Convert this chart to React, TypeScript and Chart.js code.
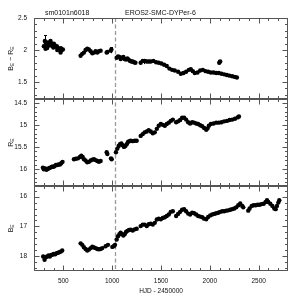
import React, { useEffect, useRef } from "react";
import { Chart, registerables } from "chart.js";

Chart.register(...registerables);

// ---- Data (HJD - 2450000) ----
// B_E - R_E colour
const hjdBR = [
  301, 311, 321, 332, 342, 352, 362, 373, 383, 393, 403, 414, 424, 434, 445, 455, 465, 475, 486, 496,
  318, 335, 369, 398, 438, 472,
  677, 694, 711, 728, 745, 762, 780, 797, 814, 831, 848, 865, 882,
  944, 950, 985, 992,
  1046, 1060, 1074, 1087, 1101, 1115, 1128, 1142, 1156, 1169, 1183, 1197, 1210, 1224, 1238,
  1292, 1313, 1333, 1354, 1374, 1395, 1422, 1450, 1477, 1504, 1532, 1559, 1586, 1614, 1641,
  1675, 1703, 1730, 1757, 1785, 1805, 1826, 1846, 1874, 1901, 1928, 1956, 1983, 2010, 2038, 2065, 2092,
  2096, 2106,
  2120, 2147, 2174, 2202, 2229, 2256, 2277,
];
const colBR = [
  2.06, 2.14, 2.11, 2.08, 2.12, 2.10, 2.07, 2.11, 2.08, 2.06, 2.10, 2.07, 2.05, 2.06, 2.03, 2.02, 2.01, 2.03, 2.00, 2.01,
  2.02, 2.03, 2.14, 2.04, 2.00, 1.96,
  1.91, 1.94, 1.96, 2.00, 2.02, 2.01, 1.98, 1.95, 1.96, 1.98, 1.96, 1.98, 1.99,
  1.96, 1.97, 1.99, 2.01,
  1.88, 1.90, 1.89, 1.86, 1.88, 1.89, 1.86, 1.85, 1.87, 1.85, 1.83, 1.82, 1.82, 1.81, 1.80,
  1.80, 1.83, 1.83, 1.82, 1.82, 1.82, 1.83, 1.81, 1.80, 1.79, 1.77, 1.75, 1.71, 1.69, 1.68,
  1.66, 1.63, 1.64, 1.66, 1.69, 1.70, 1.67, 1.64, 1.65, 1.68, 1.69, 1.67, 1.66, 1.65, 1.65, 1.64, 1.64,
  1.80, 1.82,
  1.63, 1.62, 1.61, 1.60, 1.59, 1.58, 1.57,
];
// a few visible error bars on the colour curve
const errHjd = [311, 985, 1327, 2096];
const errLo = [2.05, 1.95, 1.78, 1.77];
const errHi = [2.23, 2.04, 1.86, 1.84];

// R_E magnitude
const hjdR = [
  291, 301, 315, 328, 342, 356, 369, 383, 397, 410, 424, 438, 451, 465, 479, 492,
  609, 629, 650, 670, 684, 698, 711, 728, 745, 762, 780, 797, 814, 831, 848, 865, 882,
  944, 951, 988, 995,
  1039, 1053, 1067, 1080, 1094, 1108, 1121, 1135, 1149, 1162, 1176, 1190, 1210, 1231, 1251,
  1292, 1313, 1333, 1354, 1374, 1395, 1416, 1436, 1457, 1477, 1498, 1518, 1539, 1559, 1580, 1600, 1621,
  1655, 1675, 1696, 1716, 1737, 1757, 1778, 1798, 1819, 1839, 1860, 1880, 1901, 1922, 1942, 1963, 1976, 1990,
  2010, 2038, 2065, 2092, 2120, 2147, 2175, 2202, 2229, 2257, 2284, 2298,
];
const magR = [
  15.97, 16.01, 15.99, 16.02, 16.0, 15.98, 15.97, 15.95, 15.95, 15.94, 15.91, 15.91, 15.9, 15.9, 15.87, 15.84,
  15.78, 15.77, 15.76, 15.73, 15.7, 15.73, 15.78, 15.81, 15.85, 15.84, 15.81, 15.79, 15.78, 15.8, 15.82, 15.84, 15.82,
  15.62, 15.66, 15.76, 15.78,
  15.62, 15.54, 15.48, 15.44, 15.42, 15.46, 15.5, 15.48, 15.44, 15.39, 15.37, 15.36, 15.37, 15.36, 15.36,
  15.25, 15.21, 15.17, 15.15, 15.12, 15.15, 15.19, 15.17, 15.09, 15.02, 14.98, 15.0, 15.02, 14.98, 14.95, 14.91, 14.88,
  14.94, 14.92, 14.89, 14.84, 14.84, 14.88, 14.94, 14.97, 14.94, 14.95, 14.97, 14.98, 15.01, 15.03, 15.07, 15.11, 15.08, 15.02,
  14.98, 14.97, 14.95, 14.95, 14.94, 14.92, 14.91, 14.89, 14.88, 14.86, 14.83, 14.81,
];

// B_E magnitude
const hjdB = [
  294, 308, 321, 335, 349, 362, 376, 390, 403, 417, 431, 444, 458, 472, 489,
  677, 694, 711, 728, 745, 762, 780, 797, 814, 831, 848, 865, 882, 899,
  933, 957, 1002, 1019, 1029,
  1046, 1060, 1074, 1087, 1101, 1115, 1128, 1142, 1156, 1173, 1190, 1210, 1231, 1251,
  1292, 1313, 1333, 1354, 1374, 1395, 1416, 1436, 1457, 1477, 1498, 1518, 1539, 1559, 1580, 1600, 1621,
  1655, 1675, 1696, 1716, 1737, 1757, 1778, 1798, 1819, 1839, 1860, 1880, 1901, 1922, 1942, 1963, 1983, 2004,
  2024, 2045, 2065, 2086, 2106, 2127, 2147, 2168, 2188, 2209, 2229, 2250, 2270, 2291, 2311, 2332, 2342,
  2393, 2407, 2428, 2448, 2469, 2489, 2510, 2530, 2551, 2571, 2585, 2598, 2619, 2640, 2660, 2674, 2687, 2701, 2711,
];
const magB = [
  18.01, 18.12, 18.04, 18.01, 17.98, 18.01, 17.96, 17.95, 17.93, 17.94, 17.9, 17.89, 17.87, 17.85, 17.81,
  17.57, 17.62, 17.7, 17.76, 17.81, 17.78, 17.73, 17.68, 17.71, 17.73, 17.76, 17.77, 17.76, 17.73,
  17.67, 17.62, 17.69, 17.66, 17.62,
  17.44, 17.33, 17.26, 17.21, 17.26, 17.31, 17.26, 17.19, 17.15, 17.12, 17.11, 17.14, 17.1, 17.08,
  16.99, 16.94, 16.94, 16.99, 16.93, 16.91, 16.94, 16.88, 16.77, 16.74, 16.76, 16.72, 16.69, 16.65, 16.6, 16.51, 16.49,
  16.65, 16.58, 16.51, 16.44, 16.42, 16.49, 16.57, 16.6, 16.54, 16.56, 16.6, 16.65, 16.67, 16.69, 16.74, 16.76, 16.68, 16.63,
  16.6, 16.58, 16.56, 16.54, 16.51, 16.49, 16.49, 16.47, 16.46, 16.44, 16.42, 16.4, 16.36, 16.29, 16.23, 16.31, 16.36,
  16.47, 16.4, 16.31, 16.29, 16.29, 16.27, 16.27, 16.25, 16.24, 16.18, 16.12, 16.18, 16.24, 16.31, 16.4, 16.42, 16.31, 16.2, 16.12,
];

// ---- Axes ----
const xMajorTicks = [500, 1000, 1500, 2000, 2500];
const brTicks = [1.5, 2, 2.5];
const rTicks = [14.5, 15, 15.5, 16];
const bTicks = [16, 17, 18];
const markerHjd = 1025;
const titleLeft = "sm0101n6018";
const titleCenter = "EROS2-SMC-DYPer-6";
const xTitle = "HJD - 2450000";

const FONT = "'Liberation Sans', Arial, Helvetica, sans-serif";
const INK = "#111";
const FRAME = "#555";

export default function App() {
  const ref = useRef<HTMLCanvasElement>(null);

  useEffect(() => {
    const canvas = ref.current;
    if (!canvas) return;
    const pts = (xs: number[], ys: number[]) => xs.map((x, i) => ({ x, y: ys[i] }));

    const yAxis = (ticks: number[], extra: any) => ({
      type: "linear",
      position: "left",
      stack: "panels",
      grid: { display: false, drawTicks: false },
      border: { display: false },
      ticks: {
        font: { family: FONT, size: 6.5 },
        color: INK,
        padding: 7,
        autoSkip: false,
        callback: (v: any) => String(v),
      },
      afterBuildTicks: (s: any) => {
        s.ticks = ticks.map((value) => ({ value }));
      },
      afterFit: (s: any) => {
        s.width = 34;
      },
      ...extra,
    });

    const drawSubLabel = (ctx: CanvasRenderingContext2D, cx: number, cy: number, parts: [string, boolean][]) => {
      ctx.save();
      ctx.translate(cx, cy);
      ctx.rotate(-Math.PI / 2);
      const big = `7px ${FONT}`;
      const small = `5px ${FONT}`;
      let total = 0;
      for (const [t, sub] of parts) {
        ctx.font = sub ? small : big;
        total += ctx.measureText(t).width;
      }
      let x = -total / 2;
      ctx.fillStyle = INK;
      ctx.textBaseline = "middle";
      ctx.textAlign = "left";
      for (const [t, sub] of parts) {
        ctx.font = sub ? small : big;
        ctx.fillText(t, x, sub ? 2 : 0);
        x += ctx.measureText(t).width;
      }
      ctx.restore();
    };

    const panelPlugin = {
      id: "panelPlugin",
      beforeDatasetsDraw(chart: any) {
        const ctx = chart.ctx as CanvasRenderingContext2D;
        const area = chart.chartArea;
        const xs = chart.scales.x;
        // dashed vertical marker
        const px = Math.round(xs.getPixelForValue(markerHjd)) + 0.5;
        ctx.save();
        ctx.strokeStyle = "#9a9a9a";
        ctx.lineWidth = 1.3;
        ctx.setLineDash([4, 2.5]);
        ctx.beginPath();
        ctx.moveTo(px, area.top);
        ctx.lineTo(px, area.bottom);
        ctx.stroke();
        ctx.restore();
        // error bars
        const ys = chart.scales.yBR;
        ctx.save();
        ctx.strokeStyle = "#000";
        ctx.lineWidth = 1;
        errHjd.forEach((h, i) => {
          const x = Math.round(xs.getPixelForValue(h)) + 0.5;
          const y1 = ys.getPixelForValue(errLo[i]);
          const y2 = ys.getPixelForValue(errHi[i]);
          ctx.beginPath();
          ctx.moveTo(x, y1);
          ctx.lineTo(x, y2);
          ctx.moveTo(x - 1.5, Math.round(y2) + 0.5);
          ctx.lineTo(x + 1.5, Math.round(y2) + 0.5);
          ctx.stroke();
        });
        ctx.restore();
      },
      afterDraw(chart: any) {
        const ctx = chart.ctx as CanvasRenderingContext2D;
        const area = chart.chartArea;
        const xs = chart.scales.x;
        const L = Math.round(area.left) + 0.5;
        const R = Math.round(area.right) - 0.5;
        ctx.save();
        ctx.strokeStyle = FRAME;
        ctx.lineWidth = 1;
        const panels: [string, number, number][] = [
          ["yBR", 0.1, 0.5],
          ["yR", 0.1, 0.5],
          ["yB", 0.2, 1],
        ];
        for (const [id, minor, major] of panels) {
          const s = chart.scales[id];
          const T = Math.round(s.top) + 0.5;
          const B = Math.round(s.bottom) - 0.5;
          ctx.strokeRect(L, T, R - L, B - T);
          ctx.beginPath();
          for (let v = 300; v < 2800; v += 100) {
            const p = Math.round(xs.getPixelForValue(v)) + 0.5;
            const len = v % 500 === 0 ? 5 : 2.5;
            ctx.moveTo(p, T);
            ctx.lineTo(p, T + len);
            ctx.moveTo(p, B);
            ctx.lineTo(p, B - len);
          }
          const lo = Math.min(s.min, s.max);
          const hi = Math.max(s.min, s.max);
          const start = Math.ceil(lo / minor - 1e-6);
          const end = Math.floor(hi / minor + 1e-6);
          for (let k = start; k <= end; k++) {
            const v = k * minor;
            const p = Math.round(s.getPixelForValue(v)) + 0.5;
            if (p <= T + 0.6 || p >= B - 0.6) continue;
            const isMajor = Math.abs(v / major - Math.round(v / major)) < 1e-6;
            const len = isMajor ? 5 : 2.5;
            ctx.moveTo(L, p);
            ctx.lineTo(L + len, p);
            ctx.moveTo(R, p);
            ctx.lineTo(R - len, p);
          }
          ctx.stroke();
        }
        ctx.restore();

        ctx.save();
        ctx.fillStyle = INK;
        ctx.font = `7px ${FONT}`;
        ctx.textBaseline = "middle";
        ctx.textAlign = "left";
        ctx.fillText(titleLeft, 45, 13);
        ctx.fillText(titleCenter, 125, 13);
        ctx.restore();

        const cBR = (chart.scales.yBR.top + chart.scales.yBR.bottom) / 2;
        const cR = (chart.scales.yR.top + chart.scales.yR.bottom) / 2;
        const cB = (chart.scales.yB.top + chart.scales.yB.bottom) / 2;
        drawSubLabel(ctx, 11, cBR, [["B", false], ["E", true], [" \u2212 ", false], ["R", false], ["E", true]]);
        drawSubLabel(ctx, 11, cR, [["R", false], ["E", true]]);
        drawSubLabel(ctx, 11, cB, [["B", false], ["E", true]]);
      },
    };

    const point = { pointRadius: 2.2, pointBackgroundColor: "#000", pointBorderWidth: 0, pointHoverRadius: 2.2 };

    const chart = new Chart(canvas, {
      type: "scatter",
      data: {
        datasets: [
          { data: pts(hjdBR, colBR), yAxisID: "yBR", xAxisID: "x", ...point },
          { data: pts(hjdR, magR), yAxisID: "yR", xAxisID: "x", ...point },
          { data: pts(hjdB, magB), yAxisID: "yB", xAxisID: "x", ...point },
        ],
      },
      options: {
        responsive: false,
        animation: false,
        devicePixelRatio: 1,
        layout: { padding: { left: 0, right: 16, top: 18, bottom: 0 } },
        plugins: { legend: { display: false }, tooltip: { enabled: false }, title: { display: false } },
        scales: {
          x: {
            type: "linear",
            position: "bottom",
            min: 200,
            max: 2800,
            grid: { display: false, drawTicks: false },
            border: { display: false },
            ticks: {
              font: { family: FONT, size: 6.5 },
              color: INK,
              padding: 6,
              maxRotation: 0,
              autoSkip: false,
              callback: (v: any) => String(v),
            },
            afterBuildTicks: (s: any) => {
              s.ticks = xMajorTicks.map((value) => ({ value }));
            },
            afterFit: (s: any) => {
              s.height = 33;
            },
            title: {
              display: true,
              text: xTitle,
              font: { family: FONT, size: 6.5 },
              color: INK,
              padding: { top: 0, bottom: 9 },
            },
          },
          yBR: yAxis(brTicks, { min: 1.23, max: 2.5, stackWeight: 81, weight: 3 }),
          yR: yAxis(rTicks, { min: 14.42, max: 16.38, reverse: true, stackWeight: 86, weight: 2 }),
          yB: yAxis(bTicks, { min: 15.63, max: 18.5, reverse: true, stackWeight: 85, weight: 1 }),
        },
      } as any,
      plugins: [panelPlugin],
    });
    return () => chart.destroy();
  }, []);

  return (
    <div style={{ position: "absolute", left: 0, top: 0, width: 304, height: 304, background: "#fff" }}>
      <canvas ref={ref} width={304} height={304} style={{ width: 304, height: 304, display: "block" }} />
    </div>
  );
}
